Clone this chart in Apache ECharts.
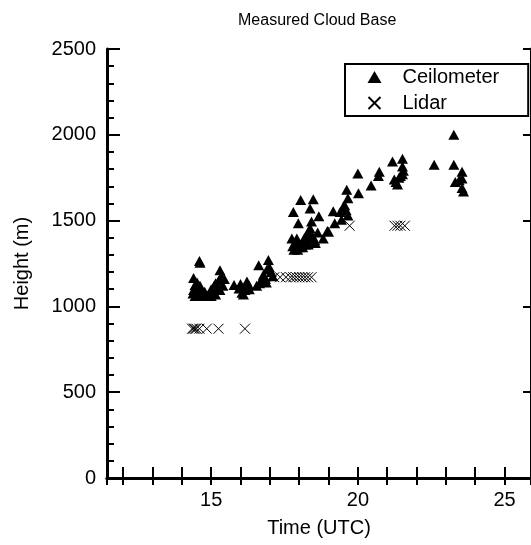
<!DOCTYPE html>
<html lang="en">
<head>
    <meta charset="utf-8">
    <title>Measured Cloud Base</title>
    <script src="https://cdn.jsdelivr.net/npm/echarts@6/dist/echarts.min.js"></script>
    <style>
        html, body { margin: 0; padding: 0; background: #fff; }
        #main { width: 531px; height: 545px; }
    </style>
</head>
<body>
<div id="main"></div>
<script type="text/javascript">
    // ceilometer cloud base, [time UTC, height m]
    var ceilometer = [
        [14.40,1165],[14.45,1125],[14.40,1095],[14.38,1075],[14.45,1060],[14.50,1105],[14.52,1140],
        [14.55,1085],[14.58,1060],[14.60,1265],[14.62,1255],[14.62,1120],[14.65,1095],[14.70,1075],
        [14.72,1060],[14.78,1085],[14.48,1080],
        [14.90,1060],[14.95,1075],[15.00,1100],[15.05,1090],[15.10,1120],[15.15,1135],[15.20,1110],
        [15.25,1150],[15.30,1210],[15.35,1175],[15.45,1160],[15.40,1120],[15.30,1095],[15.15,1070],[15.00,1060],
        [15.78,1125],[15.95,1105],[16.05,1080],[16.10,1070],[16.15,1095],[16.22,1145],[16.28,1125],
        [16.30,1100],[16.00,1130],
        [16.55,1120],[16.62,1240],[16.70,1150],[16.78,1185],[16.85,1160],[16.90,1215],[16.95,1270],
        [16.98,1230],[17.05,1200],[17.10,1175],[16.65,1135],[16.88,1140],
        [17.75,1395],[17.78,1350],[17.80,1550],[17.82,1330],[17.88,1380],[17.92,1395],[17.95,1330],
        [17.97,1485],[18.00,1345],[18.05,1620],[18.08,1360],[18.12,1345],[18.18,1400],[18.22,1360],
        [18.25,1405],[18.31,1360],[18.35,1395],[18.37,1455],[18.37,1570],[18.42,1495],[18.48,1625],
        [18.53,1385],[18.55,1370],[18.63,1430],[18.67,1525],[18.82,1395],[18.96,1440],[19.00,1435],
        [18.15,1380],[17.85,1365],[18.30,1430],[18.45,1410],
        [19.16,1555],[19.21,1485],[19.40,1550],[19.44,1505],[19.50,1580],[19.55,1590],[19.60,1560],
        [19.62,1680],[19.66,1530],[19.66,1630],[20.00,1775],[20.02,1660],[20.45,1705],[20.70,1760],[20.73,1785],
        [21.18,1845],[21.24,1740],[21.30,1725],[21.35,1710],[21.45,1760],[21.52,1860],[21.52,1815],
        [21.52,1770],[21.55,1790],[21.40,1750],
        [22.60,1825],[23.27,2000],[23.27,1825],[23.32,1725],[23.55,1785],[23.55,1745],[23.45,1735],
        [23.55,1690],[23.60,1670]
    ];
    // lidar cloud base
    var lidar = [
        [14.35,870],[14.40,870],[14.45,870],[14.50,870],[14.60,870],[14.85,870],[15.25,870],[16.15,870],
        [17.15,1170],[17.35,1170],[17.55,1170],[17.70,1170],[17.80,1170],[17.90,1170],[18.00,1170],
        [18.10,1170],[18.20,1170],[18.30,1170],[18.42,1170],
        [19.72,1470],[21.25,1470],[21.35,1470],[21.45,1470],[21.60,1470]
    ];
    var xRange = [11.45, 25.9];
    var yRange = [0, 2500];

    var font = 'Liberation Sans, Arial, Helvetica, sans-serif';
    var crossPath = 'path://M0,0L10,10M10,0L0,10';

    var myChart = echarts.init(document.getElementById('main'));
    var option = {
        animation: false,
        backgroundColor: '#fff',
        textStyle: { fontFamily: font, color: '#000' },
        title: {
            text: 'Measured Cloud Base',
            left: 233,
            top: 8,
            textStyle: { fontFamily: font, fontSize: 16, fontWeight: 'normal', color: '#000' }
        },
        legend: {
            orient: 'vertical',
            left: 345,
            top: 64,
            padding: [2, 29, 2, 21],
            borderColor: '#000',
            borderWidth: 2,
            itemWidth: 14,
            itemHeight: 12,
            itemGap: 4,
            textStyle: { fontFamily: font, fontSize: 20, color: '#000', lineHeight: 22, padding: [0, 0, 0, 16] },
            data: ['Ceilometer', 'Lidar']
        },
        grid: { left: 107, right: -4, top: 49, bottom: 67 },
        xAxis: [
            {
                type: 'value', position: 'bottom',
                min: xRange[0], max: xRange[1], splitNumber: 14,
                name: 'Time (UTC)', nameLocation: 'middle', nameGap: 40,
                nameTextStyle: { fontFamily: font, fontSize: 20, color: '#000' },
                axisLine: { lineStyle: { color: '#000', width: 3 } },
                axisTick: { inside: true, length: 11, lineStyle: { color: '#000', width: 2 } },
                axisLabel: {
                    showMinLabel: false, showMaxLabel: false,
                    fontFamily: font, fontSize: 20, color: '#000', margin: 12,
                    formatter: function (v) { return v % 5 === 0 ? String(v) : ''; }
                },
                splitLine: { show: false }
            },
            {
                type: 'value', position: 'top',
                min: xRange[0], max: xRange[1], splitNumber: 14,
                axisLine: { lineStyle: { color: '#000', width: 3 } },
                axisTick: { inside: true, length: 7, lineStyle: { color: '#000', width: 2 } },
                axisLabel: { show: false },
                splitLine: { show: false }
            }
        ],
        yAxis: [
            {
                type: 'value', position: 'left',
                min: yRange[0], max: yRange[1], interval: 500,
                name: 'Height (m)', nameLocation: 'middle', nameGap: 75,
                nameTextStyle: { fontFamily: font, fontSize: 20, color: '#000' },
                axisLine: { show: true, lineStyle: { color: '#000', width: 3 } },
                axisTick: { show: true, inside: true, length: 13, lineStyle: { color: '#000', width: 2 } },
                minorTick: { show: true, splitNumber: 5, length: 7, lineStyle: { color: '#000', width: 2 } },
                axisLabel: {
                    fontFamily: font, fontSize: 20, color: '#000', margin: 11,
                    formatter: function (v) { return String(v); }
                },
                splitLine: { show: false }
            },
            {
                type: 'value', position: 'right',
                min: yRange[0], max: yRange[1], interval: 500,
                axisLine: { show: true, lineStyle: { color: '#000', width: 3 } },
                axisTick: { show: true, inside: true, length: 8, lineStyle: { color: '#000', width: 2 } },
                axisLabel: { show: false },
                splitLine: { show: false }
            }
        ],
        series: [
            {
                name: 'Ceilometer',
                type: 'scatter',
                symbol: 'triangle',
                symbolSize: [11, 10],
                itemStyle: { color: '#000', opacity: 1 },
                data: ceilometer
            },
            {
                name: 'Lidar',
                type: 'scatter',
                symbol: crossPath,
                symbolSize: 10,
                itemStyle: { color: 'none', borderColor: '#000', borderWidth: 1, opacity: 1 },
                data: lidar
            }
        ]
    };
    myChart.setOption(option);
</script>
</body>
</html>
